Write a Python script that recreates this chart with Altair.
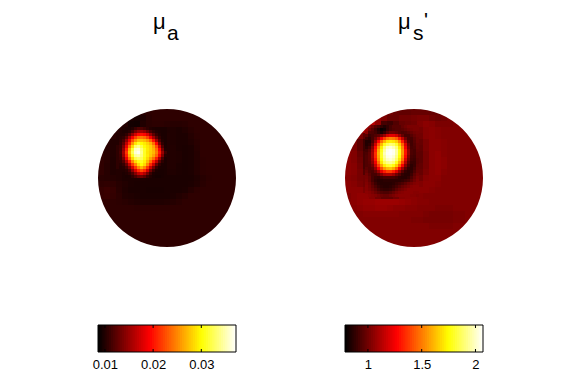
import altair as alt
import pandas as pd

# Colour-bar limits and tick labels
mua_range = [0.00856, 0.0372]
mus_range = [0.787, 2.07]
mua_ticks = [0.01, 0.02, 0.03]
mus_ticks = [1, 1.5, 2]

# mu_a in units of 1e-4, 6 px cells across the whole disk
mua_coarse = [
 [105,105,105,105,105,103,102,103,104,105,105,105,105,105,105,105,105,105,105,105,105,105,105],
 [105,105,105,105,102, 97, 95, 98,103,105,105,105,105,105,105,105,105,105,105,105,105,105,105],
 [105,105,105,104,100, 94, 93, 99,103,104,104,103,102,102,103,105,105,105,105,105,105,105,105],
 [105,105,105,102, 98, 96,105,118,112,104,100, 99, 99, 98,100,103,105,105,105,105,105,105,105],
 [105,105,103,100,150,150,150,150,150,150,150,100, 99, 98, 98,101,104,105,105,105,105,105,105],
 [105,103,100,100,150,150,150,150,150,150,150,100, 99, 98, 98,100,103,105,105,105,105,105,105],
 [105,102,100,105,150,150,150,150,150,150,150,100,100, 98, 97, 98,102,105,105,105,105,105,105],
 [106,103,100,105,150,150,150,150,150,150,150,100,100, 99, 97, 98,101,105,105,105,105,105,105],
 [106,103, 99,105,150,150,150,150,150,150,150,100,100, 99, 97, 98,101,104,105,105,105,105,105],
 [106,102, 99,105,150,150,150,150,150,150,150,100,100, 98, 97, 98,101,104,105,105,105,105,105],
 [106,102, 99,100,150,150,150,150,150,150,100, 99, 99, 98, 97, 98,101,104,105,105,105,105,105],
 [103,102,101,100, 98, 98, 98, 98, 97, 97, 97, 97, 97, 97, 97, 97, 99,102,104,105,105,105,105],
 [105,106,105,102,100, 98, 97, 97, 97, 97, 97, 97, 97, 97, 97, 98,100,103,105,105,105,105,105],
 [108,110,108,103, 99, 97, 97, 97, 96, 96, 96, 97, 97, 97, 98,101,104,105,105,105,105,105,105],
 [108,109,107,104,100, 99, 98, 97, 97, 97, 97, 97, 98,100,102,105,105,105,105,105,105,105,105],
 [106,106,105,104,103,101,100, 99, 99, 99, 99,100,101,103,105,105,105,105,105,105,105,105,105],
 [105,105,105,105,105,105,104,104,104,104,104,104,105,105,105,105,105,105,105,105,105,105,105],
 [105,105,105,105,105,105,105,105,105,105,105,105,105,105,105,105,105,105,105,105,105,105,105],
 [105,105,105,105,105,105,105,105,105,105,105,105,105,105,105,105,105,105,105,105,105,105,105],
 [105,105,105,105,105,105,105,105,105,105,105,105,105,105,105,105,105,105,105,105,105,105,105],
 [105,105,105,105,105,105,105,105,105,105,105,105,105,105,105,105,105,105,105,105,105,105,105],
 [105,105,105,105,105,105,105,105,105,105,105,105,105,105,105,105,105,105,105,105,105,105,105],
 [105,105,105,105,105,105,105,105,105,105,105,105,105,105,105,105,105,105,105,105,105,105,105],
]
# mu_a hot spot, 3 px cells
mua_spot = [
 [100, 98, 96, 96,100,110,118,118,112,105,100, 98, 97, 97, 97, 97],
 [100, 98, 98,102,115,135,150,155,148,132,116,106,100, 98, 97, 97],
 [100,100,106,122,148,175,195,200,195,178,150,125,108,100, 97, 97],
 [102,106,122,155,190,220,240,245,238,220,190,155,125,106, 98, 97],
 [104,115,145,185,225,255,275,275,270,258,235,200,155,118,100, 97],
 [107,125,165,210,255,290,310,300,292,282,268,240,195,140,106, 97],
 [110,138,185,240,285,330,340,320,300,290,280,262,225,170,118, 98],
 [112,148,205,265,315,355,360,335,310,292,282,268,240,195,135,100],
 [115,155,215,275,325,360,368,340,310,290,280,270,245,205,150,110],
 [112,150,205,262,310,345,350,335,310,292,278,262,235,190,138,102],
 [110,135,185,240,285,320,330,325,305,285,262,240,205,155,116, 98],
 [106,120,155,205,250,285,305,310,295,270,240,205,165,125,104, 97],
 [102,108,130,170,215,250,285,300,285,250,210,170,130,106, 98, 97],
 [100,102,112,138,175,215,250,270,250,215,170,135,108, 98, 97, 97],
 [100,100,103,115,145,178,210,225,210,175,135,110, 98, 96, 96, 97],
 [100, 98,100,105,118,142,165,175,160,135,110, 98, 96, 96, 96, 97],
 [100, 98, 97, 98,105,116,128,132,124,108,100, 96, 95, 95, 96, 97],
]
# mu_s' in units of 1e-2
mus_coarse = [
 [103,103,103,103,103,103,103,100, 98, 97, 97, 98, 98, 98, 98, 98, 99,100,102,103,103,103,103],
 [104,104,104,104,106,106,102, 98, 98,100,100,101,102,102,100, 99,100,102,102,103,103,103,103],
 [104,104,104,108,113,106, 92, 90, 94, 98, 99,100,103,105,104,102,102,102,103,103,103,103,103],
 [104,104,106,110, 98, 86, 80, 88, 96, 97, 96, 98,101,104,105,104,103,103,103,103,103,103,103],
 [104,104,102, 96, 90,100,118,122,118, 98, 92, 96,100,104,105,104,103,103,103,103,103,103,103],
 [104,102, 96, 90,120,150,170,170,150,120, 92, 91, 98,102,105,105,104,103,103,103,103,103,103],
 [104,102, 96, 90,120,150,170,170,150,120, 92, 91, 97,102,105,105,104,103,103,103,103,103,103],
 [105,103, 98, 92,120,150,170,170,150,120, 92, 91, 96,101,105,106,104,103,103,103,103,103,103],
 [105,103, 99, 92,120,150,170,170,150,120, 92, 91, 96,101,105,106,105,103,103,103,103,103,103],
 [105,104,100, 92,120,150,170,170,150,120, 92, 90, 97,101,105,106,105,103,103,103,103,103,103],
 [105,104,101, 94,100,120,130,130,120,100, 90, 90, 98,102,105,106,104,103,103,103,103,103,103],
 [104,103,101,100, 96, 92, 92, 93, 93, 92, 91, 94,100,104,105,105,103,103,103,103,103,103,103],
 [105,104,102,100, 94, 89, 87, 87, 88, 90, 93, 97,103,105,105,104,103,103,103,103,103,103,103],
 [105,105,105,102, 97, 92, 89, 88, 90, 94, 98,102,105,105,104,103,103,103,103,103,103,103,103],
 [103,105,106,106,104,100, 97, 97,100,104,105,105,104,103,103,103,103,103,103,103,103,103,103],
 [104,105,106,107,107,108,108,108,108,107,106,105,104,104,103,103,103,103,103,103,103,103,103],
 [103,104,105,106,106,107,107,106,105,105,104,104,103,103,103,102,102,102,103,103,103,103,103],
 [103,103,103,104,104,104,104,104,104,103,103,103,103,102,101,101,101,101,102,102,103,103,103],
 [103,103,103,103,103,103,103,103,103,103,103,102,102,101,101,101,101,101,102,102,103,103,103],
 [103,103,103,103,103,103,103,103,103,103,103,103,103,103,102,102,102,102,103,103,103,103,103],
 [103,103,103,103,103,103,103,103,103,103,103,103,103,103,103,103,103,103,103,103,103,103,103],
 [103,103,103,103,103,103,103,103,103,103,103,103,103,103,103,103,103,103,103,103,103,103,103],
 [103,103,103,103,103,103,103,103,103,103,103,103,103,103,103,103,103,103,103,103,103,103,103],
]
mus_spot = [
 [105,105,100, 95, 92, 88, 85, 88, 92, 95, 95, 95, 98,100,102,102,102,102],
 [108,100, 95, 90, 85, 80, 82, 88, 92, 94, 95, 95, 96, 98,100,101,102,102],
 [105, 94, 93, 91, 87, 83, 88, 95,100,100, 98, 95, 93, 94, 96, 98,100,101],
 [ 96, 90, 92, 94, 96,101,108,118,122,122,118,108, 98, 92, 92, 95, 98,100],
 [ 90, 87, 92, 99,110,125,138,148,152,150,145,132,115,100, 92, 92, 96, 99],
 [ 85, 85, 93,108,128,148,160,170,172,170,165,152,132,110, 95, 91, 95, 99],
 [ 85, 87, 98,118,142,162,178,186,190,188,180,165,145,120,100, 91, 94, 98],
 [ 87, 91,104,128,152,172,190,200,202,198,190,172,152,125,103, 92, 93, 98],
 [ 91, 95,108,132,158,178,195,205,207,205,195,178,155,130,107, 93, 92, 97],
 [ 93, 97,110,135,160,180,198,206,207,205,195,178,155,130,107, 93, 92, 96],
 [ 94, 97,110,134,158,180,195,204,205,202,192,175,152,127,103, 92, 91, 96],
 [ 94, 97,108,130,155,176,192,200,202,198,188,170,148,120,100, 91, 90, 95],
 [ 94, 96,105,124,148,170,186,192,194,190,178,160,138,113, 96, 89, 89, 95],
 [ 94, 95,100,116,138,158,172,180,182,176,165,146,125,104, 92, 87, 89, 96],
 [ 96, 94, 96,106,124,142,155,162,164,158,145,125,108, 95, 88, 87, 91, 97],
 [ 98, 94, 93, 98,108,122,132,138,138,132,120,106, 95, 88, 86, 88, 93, 98],
 [100, 96, 92, 92, 96,103,110,112,112,108,100, 94, 88, 86, 86, 90, 96,100],
 [101, 98, 92, 89, 88, 90, 92, 92, 92, 92, 90, 87, 86, 86, 88, 93, 98,102],
 [102, 98, 92, 88, 86, 86, 87, 87, 87, 87, 87, 87, 88, 90, 92, 96,100,103],
 [103,100, 95, 90, 87, 86, 86, 86, 86, 87, 89, 91, 93, 96, 99,101,103,104],
 [104,101, 97, 93, 89, 87, 86, 86, 87, 89, 92, 95, 98,100,102,104,105,105],
 [104,102, 99, 96, 92, 89, 88, 88, 89, 92, 96, 99,101,103,105,105,105,105],
 [105,104,102, 99, 96, 94, 93, 93, 95, 98,101,103,104,105,105,105,104,104],
 [106,105,104,103,101, 99, 98, 98,100,102,104,105,105,105,105,104,104,103],
]

HOT = ["#000000", "#ff0000", "#ffff00", "#ffffff"]
SIZE = 138
BAR_H = 27


def hot_scale(rng):
    lo, hi = rng
    return alt.Scale(domain=[lo, lo + 0.375 * (hi - lo), lo + 0.75 * (hi - lo), hi],
                     range=HOT, interpolate="rgb", clamp=True)


def cells(grid, unit, step, ox=0, oy=0):
    rows = []
    for j, row in enumerate(grid):
        for i, v in enumerate(row):
            rows.append({"x": ox + i * step, "x2": ox + (i + 1) * step,
                         "y": oy + j * step, "y2": oy + (j + 1) * step, "v": v * unit})
    return rows


def label(text, px, py, size=21, font="Liberation Sans"):
    return alt.Chart(pd.DataFrame({"t": [text]})).mark_text(
        font=font, fontSize=size, align="left", baseline="alphabetic", color="black"
    ).encode(text="t:N", x=alt.value(px), y=alt.value(py))


def disk(rows, rng, labels):
    sx = alt.Scale(domain=[0, SIZE], nice=False, zero=False)
    sy = alt.Scale(domain=[SIZE, 0], nice=False, zero=False)
    heat = alt.Chart(pd.DataFrame(rows)).mark_rect().encode(
        x=alt.X("x:Q", scale=sx, axis=None),
        x2="x2:Q",
        y=alt.Y("y:Q", scale=sy, axis=None),
        y2="y2:Q",
        color=alt.Color("v:Q", scale=hot_scale(rng), legend=None),
    )
    mask = alt.Chart(pd.DataFrame({"a": [0]})).mark_arc(
        color="white", theta=0, theta2=6.2832, radius=SIZE / 2, radius2=100
    ).encode(x=alt.value(SIZE / 2), y=alt.value(SIZE / 2))
    return alt.layer(heat, mask, *labels).properties(
        width=SIZE, height=SIZE, view=alt.ViewConfig(stroke="transparent"))


def bar(rng, ticks, fmt):
    lo, hi = rng
    n = 64
    # each step runs on to the end of the bar and the next one paints over it, so no seams show
    rows = [{"a": lo + i * (hi - lo) / n, "b": hi,
             "c": lo + (i + 0.5) * (hi - lo) / n} for i in range(n)]
    sx = alt.Scale(domain=[lo, hi], nice=False, zero=False)
    ramp = alt.Chart(pd.DataFrame(rows)).mark_rect().encode(
        x=alt.X("a:Q", scale=sx, axis=alt.Axis(
            values=ticks, format=fmt, title=None, tickSize=0, domain=False, grid=False,
            labelFont="Liberation Sans", labelFontSize=13, labelColor="black",
            labelPadding=6, labelFlush=False, labelOverlap=False)),
        x2="b:Q",
        color=alt.Color("c:Q", scale=hot_scale(rng), legend=None),
    )
    td = pd.DataFrame({"t": ticks})
    top = alt.Chart(td).mark_rule(color="black").encode(
        x=alt.X("t:Q", scale=sx), y=alt.value(0), y2=alt.value(3))
    bot = alt.Chart(td).mark_rule(color="black").encode(
        x=alt.X("t:Q", scale=sx), y=alt.value(BAR_H - 3), y2=alt.value(BAR_H))
    frame = alt.Chart(pd.DataFrame({"a": [0]})).mark_rect(
        filled=False, stroke="black", strokeWidth=1
    ).encode(x=alt.value(0), x2=alt.value(SIZE), y=alt.value(0), y2=alt.value(BAR_H))
    return alt.layer(ramp, top, bot, frame).properties(
        width=SIZE, height=BAR_H, view=alt.ViewConfig(stroke="transparent"))


d1 = disk(cells(mua_coarse, 1e-4, 6) + cells(mua_spot, 1e-4, 3, 21, 18), mua_range,
          [label("\u03bc", 55, -80, 22), label("a", 69, -69)])
d2 = disk(cells(mus_coarse, 1e-2, 6) + cells(mus_spot, 1e-2, 3, 20, 16), mus_range,
          [label("\u03bc", 53, -80, 22), label("s", 68, -69), label("'", 79, -82)])
b1 = bar(mua_range, mua_ticks, ".2f")
b2 = bar(mus_range, mus_ticks, "~g")

chart = alt.concat(d1, d2, b1, b2, columns=2, spacing={"row": 78, "column": 109}).resolve_scale(
    color="independent", x="independent", y="independent"
).properties(
    bounds="flush",
    padding={"left": 58, "top": 1, "right": 0, "bottom": 0},
    background="white",
).configure_view(strokeWidth=1)

chart.save("out.html", embed_options={"renderer": "svg", "actions": False})
